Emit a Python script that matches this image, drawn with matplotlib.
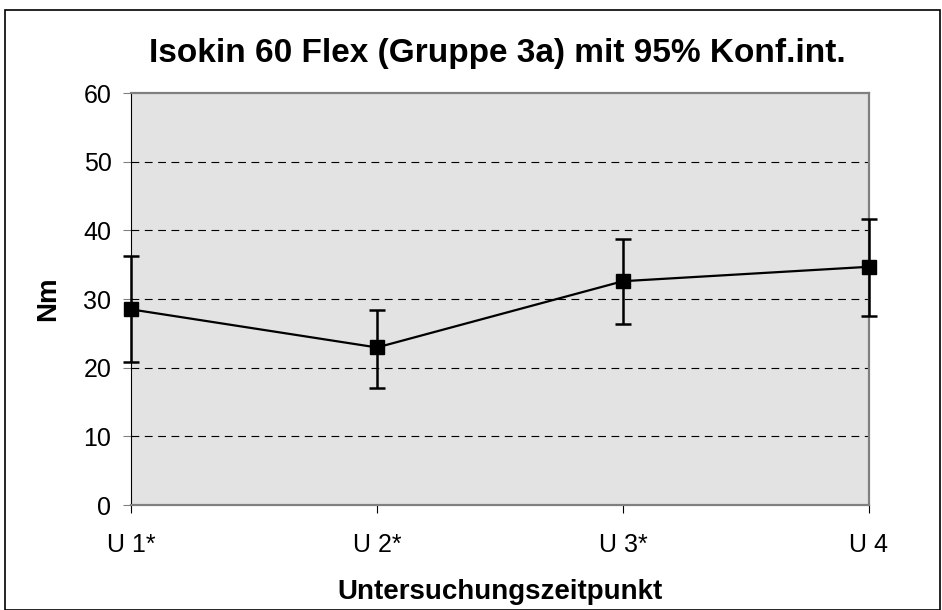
import matplotlib
matplotlib.use('Agg')
from matplotlib import pyplot as plt
from matplotlib.patches import Rectangle

matplotlib.rcParams['font.family'] = ['Liberation Sans', 'DejaVu Sans']

categories = ['U 1*', 'U 2*', 'U 3*', 'U 4']
means = [28.5, 22.95, 32.6, 34.7]
upper = [36.2, 28.4, 38.7, 41.6]
lower = [20.9, 17.1, 26.4, 27.6]
y_ticks = [0, 10, 20, 30, 40, 50, 60]

fig = plt.figure(figsize=(9.42, 6.1), dpi=100)
ax = fig.add_axes([0.139, 0.172, 0.7835, 0.6755])
ax.set_facecolor('#e3e3e3')

x = list(range(len(categories)))
yerr = [[m - lo for m, lo in zip(means, lower)],
        [up - m for up, m in zip(upper, means)]]
ax.errorbar(x, means, yerr=yerr, color='black', linewidth=1.6,
            elinewidth=1.8, capsize=5.5, capthick=1.8,
            marker='s', markersize=10, clip_on=False, zorder=5)

ax.set_xlim(0, 3)
ax.set_ylim(0, 60)
ax.set_yticks(y_ticks)
ax.set_xticks(x)
ax.set_xticklabels(categories)
ax.tick_params(axis='both', labelsize=18)
ax.tick_params(axis='y', color='#808080', length=6, pad=8)
ax.tick_params(axis='x', color='black', length=6, width=0.8, pad=14)

for yv in y_ticks[1:-1]:
    ax.axhline(yv, color='black', linewidth=0.8, linestyle=(0, (7, 5)), zorder=1)

for side in ['top', 'right', 'bottom']:
    ax.spines[side].set_color('#808080')
    ax.spines[side].set_linewidth(1.6)
ax.spines['left'].set_color('black')
ax.spines['left'].set_linewidth(0.8)

fig.text(0.528, 0.912, 'Isokin 60 Flex (Gruppe 3a) mit 95% Konf.int.',
         fontsize=24, fontweight='bold', ha='center', va='center')
ax.set_xlabel('Untersuchungszeitpunkt', fontsize=20, fontweight='bold', va='center')
ax.xaxis.set_label_coords(0.5, -0.21)
ax.set_ylabel('Nm', fontsize=20, fontweight='bold', va='center')
ax.yaxis.set_label_coords(-0.112, 0.5)

fig.patches.append(Rectangle((0.005, 0.0), 0.993, 0.984, transform=fig.transFigure,
                             fill=False, edgecolor='black', linewidth=1.2))

fig.savefig('out.png', dpi=100)
